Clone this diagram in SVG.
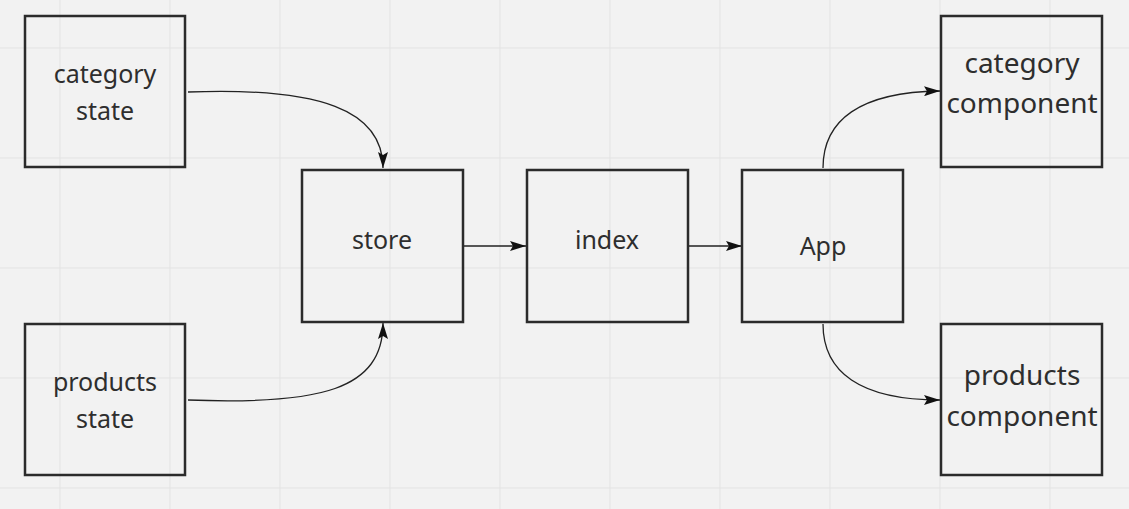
<svg xmlns="http://www.w3.org/2000/svg" width="1129" height="509" viewBox="0 0 1129 509">
  <style>
    .grid line { stroke: #e3e3e3; stroke-width: 1; }
    .node rect { fill: none; stroke: #2b2b2b; stroke-width: 2.5; }
    .node text { font-family: "Noto Sans", "Open Sans", sans-serif; fill: #2e2e2e; text-anchor: middle; }
    .sm { font-size: 25px; }
    .lg { font-size: 28px; }
    .edge { fill: none; stroke: #222; stroke-width: 1.3; marker-end: url(#arrow); }
  </style>
  <defs>
    <marker id="arrow" viewBox="0 0 16 10" refX="16" refY="5" markerWidth="16" markerHeight="10" markerUnits="userSpaceOnUse" orient="auto">
      <path d="M0,0 L16,5 L0,10 L3,5 Z" fill="#111"/>
    </marker>
  </defs>
  <rect width="1129" height="509" fill="#f2f2f2"/>
  <g class="grid">
    <line x1="60" y1="0" x2="60" y2="509"/>
    <line x1="170" y1="0" x2="170" y2="509"/>
    <line x1="280" y1="0" x2="280" y2="509"/>
    <line x1="390" y1="0" x2="390" y2="509"/>
    <line x1="500" y1="0" x2="500" y2="509"/>
    <line x1="610" y1="0" x2="610" y2="509"/>
    <line x1="720" y1="0" x2="720" y2="509"/>
    <line x1="830" y1="0" x2="830" y2="509"/>
    <line x1="940" y1="0" x2="940" y2="509"/>
    <line x1="1050" y1="0" x2="1050" y2="509"/>
    <line x1="0" y1="48" x2="1129" y2="48"/>
    <line x1="0" y1="158" x2="1129" y2="158"/>
    <line x1="0" y1="268" x2="1129" y2="268"/>
    <line x1="0" y1="378" x2="1129" y2="378"/>
    <line x1="0" y1="488" x2="1129" y2="488"/>
  </g>
  <g id="connectors">
    <path class="edge" d="M188,92 C320,87 383,110 383,168"/>
    <path class="edge" d="M188,400 C320,405 383,390 383,323"/>
    <path class="edge" d="M464,246 L526,246"/>
    <path class="edge" d="M689,246 L742,246"/>
    <path class="edge" d="M823,168 C823,120 860,92 940,91"/>
    <path class="edge" d="M823,324 C823,372 860,400 940,400"/>
  </g>
  <g id="category-state" class="node">
    <rect x="25" y="16" width="160" height="151"/>
    <text class="sm" x="105" y="83">category</text>
    <text class="sm" x="105" y="120">state</text>
  </g>
  <g id="products-state" class="node">
    <rect x="25" y="324" width="160" height="151"/>
    <text class="sm" x="105" y="391">products</text>
    <text class="sm" x="105" y="428">state</text>
  </g>
  <g id="store" class="node">
    <rect x="302" y="170" width="161" height="152"/>
    <text class="sm" x="382" y="249">store</text>
  </g>
  <g id="index" class="node">
    <rect x="527" y="170" width="161" height="152"/>
    <text class="sm" x="607" y="249">index</text>
  </g>
  <g id="app" class="node">
    <rect x="742" y="170" width="161" height="152"/>
    <text class="sm" x="823" y="255">App</text>
  </g>
  <g id="category-component" class="node">
    <rect x="941" y="16" width="161" height="151"/>
    <text class="lg" x="1022" y="73">category</text>
    <text class="lg" x="1022" y="113">component</text>
  </g>
  <g id="products-component" class="node">
    <rect x="941" y="324" width="161" height="151"/>
    <text class="lg" x="1022" y="385">products</text>
    <text class="lg" x="1022" y="426">component</text>
  </g>
</svg>
